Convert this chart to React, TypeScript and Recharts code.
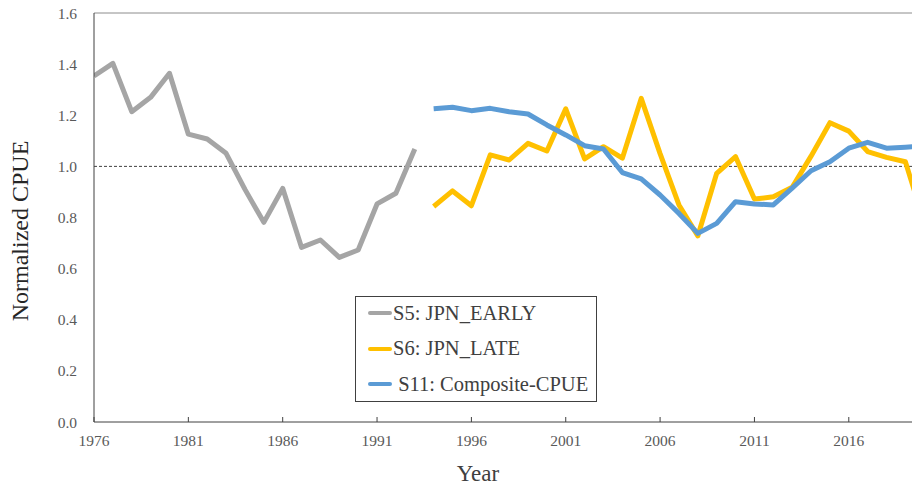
import React from 'react';
import { LineChart, Line, XAxis, YAxis, ReferenceLine } from 'recharts';

const years = [
  1976, 1977, 1978, 1979, 1980, 1981, 1982, 1983, 1984, 1985, 1986, 1987, 1988, 1989, 1990,
  1991, 1992, 1993, 1994, 1995, 1996, 1997, 1998, 1999, 2000, 2001, 2002, 2003, 2004, 2005,
  2006, 2007, 2008, 2009, 2010, 2011, 2012, 2013, 2014, 2015, 2016, 2017, 2018, 2019, 2020,
];

// S5 runs 1976-1993
const earlyStart = 1976;
const earlyValues = [
  1.354, 1.403, 1.214, 1.27, 1.364, 1.126, 1.107, 1.051, 0.91, 0.781, 0.914, 0.683, 0.712,
  0.644, 0.673, 0.853, 0.895, 1.068,
];

// S6 and S11 run 1994-2020 (last year runs off the right edge)
const lateStart = 1994;
const lateValues = [
  0.843, 0.904, 0.846, 1.045, 1.025, 1.09, 1.06, 1.225, 1.029, 1.077, 1.032, 1.266, 1.05,
  0.849, 0.728, 0.973, 1.038, 0.872, 0.881, 0.918, 1.04, 1.171, 1.138, 1.058, 1.035, 1.018, 0.78,
];
const compositeValues = [
  1.225, 1.231, 1.218, 1.227, 1.214, 1.205, 1.162, 1.123, 1.081, 1.068, 0.976, 0.951, 0.888,
  0.816, 0.738, 0.777, 0.862, 0.853, 0.849, 0.915, 0.983, 1.018, 1.071, 1.094, 1.071, 1.075, 1.08,
];

const xTicks = [1976, 1981, 1986, 1991, 1996, 2001, 2006, 2011, 2016];
const yTicks = [0, 0.2, 0.4, 0.6, 0.8, 1.0, 1.2, 1.4, 1.6];

const seriesNames = ['S5: JPN_EARLY', 'S6: JPN_LATE', ' S11: Composite-CPUE'];
const seriesColors = ['#A5A5A5', '#FFC000', '#5B9BD5'];

const pick = (arr: number[], start: number, year: number) => {
  const i = year - start;
  return i >= 0 && i < arr.length ? arr[i] : null;
};

const data = years.map((year) => ({
  year,
  early: pick(earlyValues, earlyStart, year),
  late: pick(lateValues, lateStart, year),
  composite: pick(compositeValues, lateStart, year),
}));

const FONT = '"Liberation Serif", "Times New Roman", serif';

const YearTick = (props: any) => {
  const { x, y, payload } = props;
  return (
    <g>
      <line x1={x} y1={y} x2={x} y2={y - 5} stroke="#404040" strokeWidth={1} />
      <text x={x} y={y + 24} textAnchor="middle" fill="#595959" fontSize={15.5} fontFamily={FONT}>
        {payload.value}
      </text>
    </g>
  );
};

export default function App() {
  return (
    <div style={{ position: 'absolute', left: 0, top: 0, width: 912, height: 486, background: '#fff' }}>
      <LineChart width={912} height={486} data={data} margin={{ top: 13, right: 0, bottom: 0, left: 0 }}>
        <XAxis
          dataKey="year"
          type="number"
          domain={[1976, 2019.35]}
          allowDataOverflow
          ticks={xTicks}
          interval={0}
          height={64}
          tickSize={0}
          tickMargin={0}
          tickLine={false}
          axisLine={{ stroke: '#404040', strokeWidth: 1 }}
          tick={<YearTick />}
          label={{
            content: () => (
              <text x={478} y={481} textAnchor="middle" fill="#404040" fontSize={23} fontFamily={FONT}>
                Year
              </text>
            ),
          }}
        />
        <YAxis
          type="number"
          domain={[0, 1.6]}
          ticks={yTicks}
          width={94}
          tickSize={0}
          tickMargin={17}
          tickLine={false}
          axisLine={{ stroke: '#404040', strokeWidth: 1 }}
          tickFormatter={(v: number) => v.toFixed(1)}
          tick={{ fill: '#595959', fontSize: 15.5, fontFamily: FONT }}
          label={{
            content: () => (
              <text
                x={28}
                y={231}
                transform="rotate(-90 28 231)"
                textAnchor="middle"
                fill="#262626"
                fontSize={24}
                fontFamily={FONT}
              >
                Normalized CPUE
              </text>
            ),
          }}
        />
        <ReferenceLine y={1.6} stroke="#8c8c8c" strokeWidth={1} />
        <ReferenceLine y={1} stroke="#404040" strokeWidth={1} strokeDasharray="3 2" />
        <Line
          dataKey="early"
          name={seriesNames[0]}
          stroke={seriesColors[0]}
          strokeWidth={5}
          dot={false}
          type="linear"
          strokeLinejoin="round"
          isAnimationActive={false}
        />
        <Line
          dataKey="late"
          name={seriesNames[1]}
          stroke={seriesColors[1]}
          strokeWidth={5}
          dot={false}
          type="linear"
          strokeLinejoin="round"
          isAnimationActive={false}
        />
        <Line
          dataKey="composite"
          name={seriesNames[2]}
          stroke={seriesColors[2]}
          strokeWidth={5}
          dot={false}
          type="linear"
          strokeLinejoin="round"
          isAnimationActive={false}
        />
      </LineChart>
      <div
        style={{
          position: 'absolute',
          left: 355,
          top: 296,
          width: 242,
          height: 106,
          boxSizing: 'border-box',
          border: '1px solid #404040',
          background: '#fff',
          fontFamily: FONT,
          fontSize: 20.5,
          color: '#404040',
        }}
      >
        {seriesNames.map((name, i) => (
          <div
            key={name}
            style={{
              position: 'absolute',
              left: 12,
              top: 16 + i * 35.5 - 12,
              height: 24,
              display: 'flex',
              alignItems: 'center',
              whiteSpace: 'pre',
            }}
          >
            <span
              style={{
                display: 'inline-block',
                width: 24,
                height: 4,
                borderRadius: 2,
                background: seriesColors[i],
                marginRight: 1,
              }}
            />
            <span>{name}</span>
          </div>
        ))}
      </div>
    </div>
  );
}
